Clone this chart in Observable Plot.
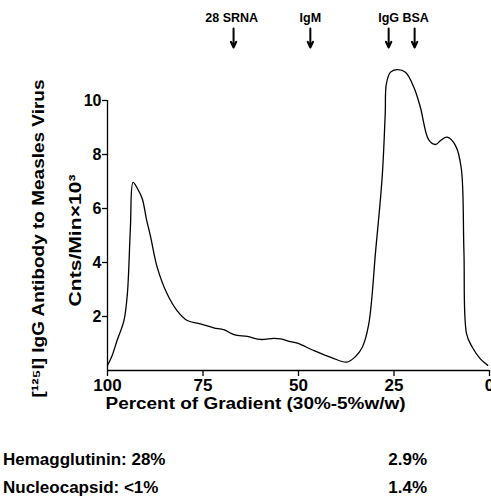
<!DOCTYPE html>
<html>
<head>
<meta charset="utf-8">
<script src="https://cdn.jsdelivr.net/npm/d3@7"></script>
<script src="https://cdn.jsdelivr.net/npm/@observablehq/plot@0.6"></script>
<style>
  html, body { margin: 0; padding: 0; background: #fff; }
  #wrap { position: relative; width: 491px; height: 497px; overflow: hidden;
    font-family: "Liberation Sans", Arial, sans-serif; font-weight: bold; color: #000; }
  .foot { position: absolute; font-size: 17px; line-height: 20px; white-space: nowrap; }
</style>
</head>
<body>
<div id="wrap"></div>
<script>
// Curve: percent of gradient vs cpm x10^3
const gradient = [100, 98.8, 97.5, 95.7, 94.8, 94.0, 93.3, 92.2, 90.9, 89.8, 88.7, 87.0, 84.4, 81.8, 79.1, 75.7, 72.2, 69.6, 66.9, 63.4, 59.9, 56.5, 54.7, 52.1, 50.3, 46.0, 41.2, 37.4, 35.2, 33.3, 31.6, 29.8, 28.1, 27.3, 27.0, 25.9, 24.2, 22.0, 19.8, 18.1, 15.9, 14.1, 12.8, 11.1, 8.9, 7.4, 6.7, 6.0, 4.5, 2.4, 0.45];
const counts   = [0.19, 0.55, 1.11, 1.85, 2.84, 5.3, 6.97, 6.75, 6.36, 5.6, 4.94, 3.83, 2.84, 2.22, 1.85, 1.73, 1.58, 1.51, 1.33, 1.26, 1.15, 1.19, 1.17, 1.07, 1.01, 0.74, 0.47, 0.31, 0.5, 0.86, 1.73, 4.44, 7.16, 9.5, 10.62, 11.05, 11.14, 11.05, 10.49, 9.75, 8.54, 8.37, 8.52, 8.64, 8.33, 7.5, 4.44, 1.36, 0.86, 0.43, 0.19];

// Marker arrows at the top
const markerNames = ["28 SRNA", "IgM", "IgG BSA"];
const markerLabelX = [67.5, 46.9, 22.5];
const arrowX = [67, 46.9, 26.4, 19.6];

const xTicks = [100, 75, 50, 25, 0];
const yTicks = [2, 4, 6, 8, 10];

const footLeft = ["Hemagglutinin: 28%", "Nucleocapsid: <1%"];
const footRight = ["2.9%", "1.4%"];

const data = gradient.map((g, i) => ({g, c: counts[i]}));
const labels = markerNames.map((n, i) => ({n, x: markerLabelX[i]}));
const arrows = arrowX.map(x => ({x}));

const chart = Plot.plot({
  width: 491,
  height: 420,
  marginLeft: 107,
  marginRight: 2,
  marginTop: 100,
  marginBottom: 50,
  style: {fontFamily: '"Liberation Sans", Arial, sans-serif', fontWeight: "bold", fontSize: "17px", overflow: "visible", background: "#fff"},
  x: {domain: [100, 0]},
  y: {domain: [0, 10]},
  marks: [
    Plot.ruleX([100], {y1: 0, y2: 10, strokeWidth: 1.3}),
    Plot.ruleY([0], {x1: 100, x2: 0, strokeWidth: 1.3}),
    Plot.axisX({ticks: xTicks, tickSize: 6, tickPadding: 2, fontSize: 17, label: null, tickFormat: d => String(d), strokeWidth: 1.3}),
    Plot.axisY({ticks: yTicks, tickSize: 5, tickPadding: 1, fontSize: 16, label: null, strokeWidth: 1.3}),
    Plot.line(data, {x: "g", y: "c", curve: "catmull-rom", strokeWidth: 1.3, stroke: "#000"}),
    Plot.text(labels, {x: "x", y: 13.04, text: "n", fontSize: 12.5}),
    Plot.arrow(arrows, {x: "x", y1: 12.67, y2: 11.96, strokeWidth: 2, headLength: 7, headAngle: 50, stroke: "#000"}),
    Plot.text(["Percent of Gradient (30%-5%w/w)"], {frameAnchor: "bottom-left", lineAnchor: "middle", dx: -2, dy: 33, textAnchor: "start", fontSize: 16, className: "xlab"}),
    Plot.text(["[¹²⁵I] IgG Antibody to Measles Virus"], {frameAnchor: "left", textAnchor: "middle", lineAnchor: "middle", dx: -69, dy: 3, rotate: -90, fontSize: 17, className: "ylab1"}),
    Plot.text(["Cnts/Min×10³"], {frameAnchor: "left", textAnchor: "middle", lineAnchor: "middle", dx: -32, dy: 5, rotate: -90, fontSize: 17, className: "ylab2"})
  ]
});

// fit long labels to the widths measured in the reference
const sel = d3.select(chart);
sel.selectAll(".xlab text").attr("textLength", 300).attr("lengthAdjust", "spacingAndGlyphs");
sel.selectAll(".ylab1 text").attr("textLength", 318).attr("lengthAdjust", "spacingAndGlyphs");
sel.selectAll(".ylab2 text").attr("textLength", 132).attr("lengthAdjust", "spacingAndGlyphs");

const wrap = document.getElementById("wrap");
wrap.appendChild(chart);

const tops = [450, 478];
footLeft.forEach((t, i) => {
  const d = document.createElement("div");
  d.className = "foot"; d.textContent = t;
  d.style.left = "3px"; d.style.top = tops[i] + "px";
  wrap.appendChild(d);
});
footRight.forEach((t, i) => {
  const d = document.createElement("div");
  d.className = "foot"; d.textContent = t;
  d.style.right = "64px"; d.style.top = tops[i] + "px";
  wrap.appendChild(d);
});
</script>
</body>
</html>
